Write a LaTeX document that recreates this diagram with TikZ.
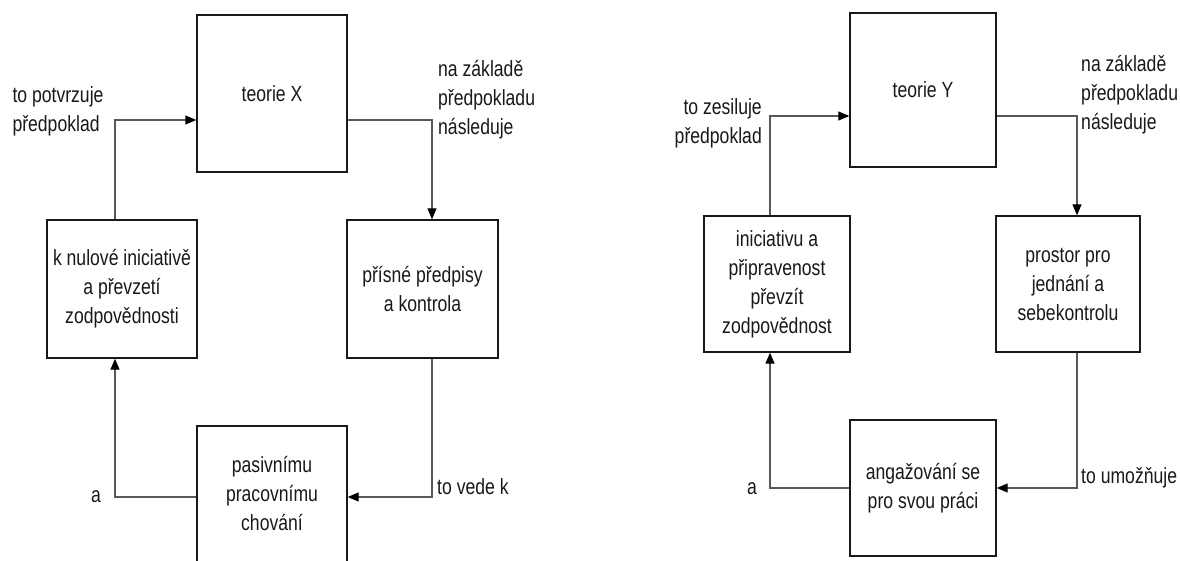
\documentclass[tikz,border=0pt]{standalone}
\usepackage{fontspec}
\setmainfont{Liberation Sans}[FakeStretch=0.8]
\usetikzlibrary{arrows.meta}
\begin{document}
\begin{tikzpicture}[x=1pt,y=-1pt,
  every node/.style={font=\fontsize{22}{29}\selectfont, text=black!90},
  box/.style={draw=black!90, line width=1.4pt, align=center, inner sep=0pt},
  conn/.style={draw=black!65, line width=1.2pt},
  arr/.style={conn, -{Triangle[length=11pt,width=9pt,color=black]}},
  lbl/.style={align=left, inner sep=0pt}
]
\useasboundingbox (0,0) rectangle (1180,561);
\fill[white] (0,0) rectangle (1180,561);
\begin{scope}
\clip (0,0) rectangle (1180,561);

% ---- theory X cycle ----
\node[box, minimum width=150, minimum height=157] (tX) at (272,93.5) {teorie X};
\node[box, minimum width=151, minimum height=138] (pp) at (422.5,289) {přísné předpisy\\a kontrola};
\node[box, minimum width=150, minimum height=138] (kn) at (122,289) {k nulové iniciativě\\a převzetí\\zodpovědnosti};
\node[box, minimum width=150, minimum height=136] (pas) at (272,494) {pasivnímu\\pracovnímu\\chování};

\coordinate (xl1) at (115,120);
\coordinate (xr1) at (432,120);
\coordinate (xr2) at (432,497);
\coordinate (xl2) at (115,497);

\draw[arr] (xl1 |- kn.north) -- (xl1) -- (xl1 -| tX.west);
\draw[arr] (xr1 -| tX.east) -- (xr1) -- (xr1 |- pp.north);
\draw[arr] (xr2 |- pp.south) -- (xr2) -- (xr2 -| pas.east);
\draw[arr] (xl2 -| pas.west) -- (xl2) -- (xl2 |- kn.south);

\node[lbl] (lxa) at (58,111) {to potvrzuje\\předpoklad};
\node[lbl, anchor=west] (lxb) at (438,100) {na základě\\předpokladu\\následuje};
\node[lbl, anchor=west] (lxc) at (437,487) {to vede k};
\node[lbl] (lxd) at (96,497) {a};

% ---- theory Y cycle ----
\node[box, minimum width=146, minimum height=154] (tY) at (923,90) {teorie Y};
\node[box, minimum width=146, minimum height=136] (in) at (777,284) {iniciativu a\\připravenost\\převzít\\zodpovědnost};
\node[box, minimum width=144, minimum height=136] (pr) at (1068,284) {prostor pro\\jednání a\\sebekontrolu};
\node[box, minimum width=146, minimum height=136] (an) at (923,488) {angažování se\\pro svou práci};

\coordinate (yl1) at (770,116);
\coordinate (yr1) at (1077,116);
\coordinate (yr2) at (1077,488);
\coordinate (yl2) at (770,488);

\draw[arr] (yl1 |- in.north) -- (yl1) -- (yl1 -| tY.west);
\draw[arr] (yr1 -| tY.east) -- (yr1) -- (yr1 |- pr.north);
\draw[arr] (yr2 |- pr.south) -- (yr2) -- (yr2 -| an.east);
\draw[arr] (yl2 -| an.west) -- (yl2) -- (yl2 |- in.south);

\node[lbl, align=right, anchor=east] (lya) at (762,123) {to zesiluje\\předpoklad};
\node[lbl, anchor=west] (lyb) at (1081,95) {na základě\\předpokladu\\následuje};
\node[lbl, anchor=west] (lyc) at (1081,478) {to umožňuje};
\node[lbl] (lyd) at (752,489) {a};
\end{scope}
\end{tikzpicture}
\end{document}
